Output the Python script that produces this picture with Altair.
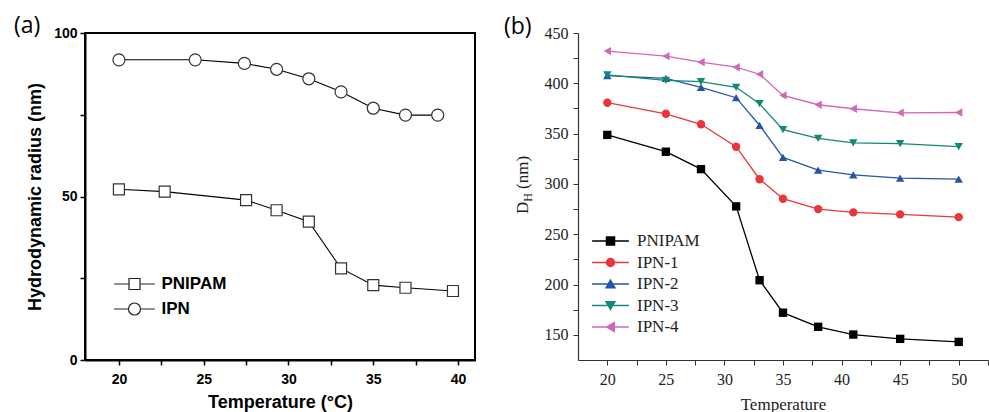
import altair as alt
import pandas as pd

# ---------------- Panel (a) data ----------------
a_series = ["PNIPAM", "IPN"]
a_pnipam_t = [20.0, 22.7, 27.5, 29.3, 31.2, 33.1, 35.0, 36.9, 39.7]
a_pnipam_r = [52.2, 51.5, 48.9, 45.8, 42.3, 28.0, 22.9, 22.1, 21.1]
a_ipn_t = [20.0, 24.5, 27.4, 29.3, 31.2, 33.1, 35.0, 36.9, 38.8]
a_ipn_r = [91.8, 91.8, 90.7, 88.9, 86.0, 82.0, 77.0, 74.9, 74.9]

# ---------------- Panel (b) data ----------------
b_series = ["PNIPAM", "IPN-1", "IPN-2", "IPN-3", "IPN-4"]
b_temps = [20, 25, 28, 31, 33, 35, 38, 41, 45, 50]
b_pnipam = [348.7, 332.0, 314.7, 277.7, 204.3, 172.0, 158.0, 150.3, 146.0, 143.0]
b_ipn1 = [380.7, 369.7, 359.3, 337.0, 304.7, 285.3, 275.0, 271.7, 269.7, 267.0]
b_ipn2 = [407.7, 405.0, 396.0, 385.7, 358.3, 326.3, 313.7, 309.0, 305.7, 304.7]
b_ipn3 = [408.3, 403.0, 401.7, 396.0, 379.7, 354.0, 345.3, 340.7, 340.0, 337.0]
b_ipn4 = [432.0, 427.0, 421.0, 416.0, 409.0, 388.0, 378.7, 374.7, 370.7, 371.0]
b_colors = ["#000000", "#e8363a", "#2456a8", "#138878", "#d067bb"]

# ---------------- Panel (a) ----------------
da = pd.DataFrame({
    "t": a_pnipam_t + a_ipn_t,
    "r": a_pnipam_r + a_ipn_r,
    "s": ["PNIPAM"] * len(a_pnipam_t) + ["IPN"] * len(a_ipn_t),
})

A_FONT = "Liberation Sans"
xa = alt.X("t:Q", scale=alt.Scale(domain=[18, 41], nice=False, zero=False),
           axis=alt.Axis(values=[20, 22.5, 25, 27.5, 30, 32.5, 35, 37.5, 40],
                         labelExpr="datum.value % 5 == 0 ? datum.label : ''",
                         title="Temperature (°C)", grid=False,
                         domainColor="black", domainWidth=2, tickColor="black", tickWidth=1.5, tickSize=5,
                         labelFont=A_FONT, labelFontWeight="bold", labelFontSize=14, labelColor="black",
                         labelPadding=7, titleFont=A_FONT, titleFontWeight="bold", titleFontSize=18,
                         titleColor="black", titlePadding=7))
ya = alt.Y("r:Q", scale=alt.Scale(domain=[0, 100], nice=False),
           axis=alt.Axis(values=[0, 25, 50, 75, 100],
                         labelExpr="datum.value % 50 == 0 ? datum.label : ''",
                         title="Hydrodynamic radius (nm)", grid=False,
                         domainColor="black", domainWidth=2, tickColor="black", tickWidth=1.5, tickSize=5,
                         labelFont=A_FONT, labelFontWeight="bold", labelFontSize=14, labelColor="black",
                         labelPadding=3, titleFont=A_FONT, titleFontWeight="bold", titleFontSize=18,
                         titleColor="black", titlePadding=9))

a_line = alt.Chart(da).mark_line(color="black", strokeWidth=1.1).encode(
    x=xa, y=ya, detail="s:N")
a_pts = alt.Chart(da).mark_point(fill="white", stroke="#333333", strokeWidth=1.2, opacity=1).encode(
    x=xa, y=ya,
    shape=alt.Shape("s:N", scale=alt.Scale(domain=a_series, range=["square", "circle"]), legend=None),
    size=alt.Size("s:N", scale=alt.Scale(domain=a_series, range=[121, 144]), legend=None),
)
a_leg_paths = [
    "M-3.7,0H-1M1,0H3.7M-1,-1H1V1H-1Z",
    "M-3.7,0H-1.09M1.09,0H3.7M1.09,0A1.09,1.09,0,1,1,-1.09,0A1.09,1.09,0,1,1,1.09,0Z",
]
a_legend = alt.Legend(title=None, orient="none", legendX=29, legendY=242.5,
                      symbolSize=121, symbolStrokeWidth=1.2, symbolOpacity=1,
                      symbolOffset=12, labelOffset=18.5, rowPadding=7, padding=0,
                      labelFont=A_FONT, labelFontWeight="bold", labelFontSize=17,
                      labelColor="black")
a_leg = alt.Chart(da).mark_point(filled=True, opacity=0).encode(
    x=xa, y=ya,
    color=alt.Color("s:N", scale=alt.Scale(domain=a_series, range=["white", "white"]), legend=a_legend),
    stroke=alt.Stroke("s:N", scale=alt.Scale(domain=a_series, range=["#222222", "#222222"]), legend=a_legend),
    shape=alt.Shape("s:N", scale=alt.Scale(domain=a_series, range=a_leg_paths), legend=a_legend),
)
a_tag = alt.Chart(pd.DataFrame({"lab": ["(a)"]})).mark_text(
    align="left", baseline="alphabetic", font="Open Sans", fontSize=23, color="black"
).encode(x=alt.value(-71), y=alt.value(0), text="lab:N")

chart_a = alt.layer(a_line, a_pts, a_leg, a_tag).resolve_scale(
    shape="independent", size="independent", color="independent", stroke="independent"
).properties(width=390, height=327,
             view=alt.ViewBackground(stroke="black", strokeWidth=2))

# ---------------- Panel (b) ----------------
db = pd.DataFrame({
    "t": b_temps * 5,
    "d": b_pnipam + b_ipn1 + b_ipn2 + b_ipn3 + b_ipn4,
    "s": sum([[s] * len(b_temps) for s in b_series], []),
})
B_FONT = "Liberation Serif"
xb = alt.X("t:Q", scale=alt.Scale(domain=[17.5, 52.5], nice=False, zero=False),
           axis=alt.Axis(values=[20, 22.5, 25, 27.5, 30, 32.5, 35, 37.5, 40, 42.5, 45, 47.5, 50, 52.5],
                         labelExpr="datum.value % 5 == 0 ? datum.label : ''",
                         title="Temperature", grid=False,
                         domainColor="#333333", domainWidth=1.2, tickColor="#333333", tickWidth=1, tickSize=5,
                         labelFont=B_FONT, labelFontSize=16, labelColor="#222222", labelPadding=6,
                         titleFont=B_FONT, titleFontWeight="normal", titleFontSize=17,
                         titleColor="#222222", titlePadding=9))
yb = alt.Y("d:Q", scale=alt.Scale(domain=[125, 450], nice=False, zero=False),
           axis=alt.Axis(values=[150, 175, 200, 225, 250, 275, 300, 325, 350, 375, 400, 425, 450],
                         labelExpr="datum.value % 50 == 0 ? datum.label : ''",
                         title=None, grid=False,
                         domainColor="#333333", domainWidth=1.2, tickColor="#333333", tickWidth=1, tickSize=5,
                         labelFont=B_FONT, labelFontSize=16, labelColor="#222222", labelPadding=5))
b_color_scale = alt.Scale(domain=b_series, range=b_colors)
b_line = alt.Chart(db).mark_line(strokeWidth=1.3).encode(
    x=xb, y=yb, color=alt.Color("s:N", scale=b_color_scale, legend=None))
b_pts = alt.Chart(db).mark_point(filled=True, opacity=1, size=70).encode(
    x=xb, y=yb,
    color=alt.Color("s:N", scale=b_color_scale, legend=None),
    shape=alt.Shape("s:N", scale=alt.Scale(
        domain=b_series, range=["square", "circle", "triangle-up", "triangle-down", "triangle-left"]),
        legend=None),
)
b_leg_paths = [
    "M-4.6,0H4.6M-1,-1H1V1H-1Z",
    "M-4.6,0H4.6M1,0A1,1,0,1,1,-1,0A1,1,0,1,1,1,0Z",
    "M-4.6,0H4.6M0,-0.95L-1.1,0.95L1.1,0.95Z",
    "M-4.6,0H4.6M0,0.95L-1.1,-0.95L1.1,-0.95Z",
    "M-4.6,0H4.6M-0.95,0L0.95,-1.1L0.95,1.1Z",
]
b_legend = alt.Legend(title=None, orient="none", legendX=14, legendY=199.5,
                      symbolSize=64, symbolStrokeWidth=1.5, symbolOpacity=1,
                      symbolOffset=10, labelOffset=18, rowPadding=3.5, padding=0,
                      labelFont=B_FONT, labelFontSize=17, labelColor="#222222")
b_leg = alt.Chart(db).mark_point(filled=True, opacity=0).encode(
    x=xb, y=yb,
    color=alt.Color("s:N", scale=b_color_scale, legend=b_legend),
    stroke=alt.Stroke("s:N", scale=b_color_scale, legend=b_legend),
    shape=alt.Shape("s:N", scale=alt.Scale(domain=b_series, range=b_leg_paths), legend=b_legend),
)
b_tag = alt.Chart(pd.DataFrame({"lab": ["(b)"]})).mark_text(
    align="left", baseline="alphabetic", font="Open Sans", fontSize=23, color="black"
).encode(x=alt.value(-74), y=alt.value(1), text="lab:N")

b_t1 = alt.Chart(pd.DataFrame({"lab": ["D"]})).mark_text(
    align="left", baseline="alphabetic", angle=270, font=B_FONT, fontSize=17, color="#222222"
).encode(x=alt.value(-50), y=alt.value(181), text="lab:N")
b_t2 = alt.Chart(pd.DataFrame({"lab": ["H"]})).mark_text(
    align="left", baseline="alphabetic", angle=270, font=B_FONT, fontSize=12, color="#222222"
).encode(x=alt.value(-46.5), y=alt.value(168.7), text="lab:N")
b_t3 = alt.Chart(pd.DataFrame({"lab": ["(nm)"]})).mark_text(
    align="left", baseline="alphabetic", angle=270, font=B_FONT, fontSize=17, color="#222222"
).encode(x=alt.value(-50), y=alt.value(156), text="lab:N")

chart_b = alt.layer(b_line, b_pts, b_leg, b_tag, b_t1, b_t2, b_t3).resolve_scale(
    color="independent", shape="independent", stroke="independent"
).properties(width=410, height=327)

chart = alt.hconcat(chart_a, chart_b, spacing=28).resolve_scale(
    color="independent", shape="independent", size="independent", stroke="independent"
).properties(
    padding={"left": 13, "top": 14, "right": 0, "bottom": 0},
    background="white",
).configure_view(stroke=None)

chart.save("out.html", embed_options={"renderer": "svg", "actions": False})
